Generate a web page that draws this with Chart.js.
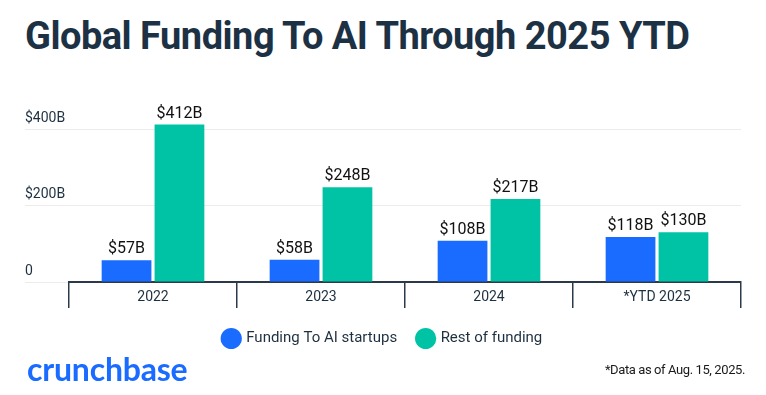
<!DOCTYPE html>
<html>
<head>
<meta charset="utf-8">
<script src="https://cdn.jsdelivr.net/npm/chart.js@4"></script>
<style>
  html, body { margin: 0; padding: 0; background: #fff; }
  body { width: 766px; height: 395px; position: relative; overflow: hidden; font-family: Roboto, "Open Sans", sans-serif; }
  #title { position: absolute; left: 25px; top: 14px; font-size: 38px; font-weight: 700; color: #1c3144; white-space: nowrap; letter-spacing: -0.5px; }
  #wrap { position: absolute; left: 0; top: 0; width: 766px; height: 395px; }
  #logo { position: absolute; left: 27px; top: 349px; font-family: Lato, sans-serif; font-size: 32px; font-weight: 700; color: #1a6bff; letter-spacing: -0.2px; }
  #note { position: absolute; right: 21px; top: 362px; font-size: 13px; color: #1a1a1a; letter-spacing: -0.4px; }
</style>
</head>
<body>
<div id="title">Global Funding To AI Through 2025 YTD</div>
<div id="wrap"><canvas id="chart" width="766" height="395"></canvas></div>
<div id="logo">crunchbase</div>
<div id="note">*Data as of Aug. 15, 2025.</div>
<script>
    "use strict";

    // Data
    var years = ["2022", "2023", "2024", "*YTD 2025"];
    var aiFunding = [57, 58, 108, 118];
    var restFunding = [412, 248, 217, 130];
    var seriesNames = ["Funding To AI startups", "Rest of funding"];
    var yTicks = [0, 200, 400];

    var textColor = "#1e3040";

    // Value labels above bars
    var barLabels = {
        id: "barLabels",
        afterDatasetsDraw: function (chart) {
            var ctx = chart.ctx;
            ctx.save();
            ctx.font = "16px Roboto";
            ctx.fillStyle = "#111111";
            ctx.textAlign = "center";
            ctx.textBaseline = "bottom";
            chart.data.datasets.forEach(function (ds, i) {
                chart.getDatasetMeta(i).data.forEach(function (bar, j) {
                    ctx.fillText("$" + ds.data[j] + "B", bar.x, bar.y - 3);
                });
            });
            ctx.restore();
        }
    };

    var ctx = document.getElementById("chart").getContext("2d");
    var myChart = new Chart(ctx, {
        type: "bar",
        data: {
            labels: years,
            datasets: [{
                label: seriesNames[0],
                data: aiFunding,
                backgroundColor: "#1a6bff",
                categoryPercentage: 0.63,
                barPercentage: 0.94
            }, {
                label: seriesNames[1],
                data: restFunding,
                backgroundColor: "#00c3a5",
                categoryPercentage: 0.63,
                barPercentage: 0.94
            }]
        },
        options: {
            responsive: false,
            animation: false,
            layout: { padding: { left: 25, right: 25, top: 110, bottom: 39 } },
            plugins: {
                legend: {
                    position: "bottom",
                    labels: {
                        usePointStyle: true,
                        pointStyle: "circle",
                        boxWidth: 15,
                        boxHeight: 15,
                        padding: 21,
                        color: textColor,
                        font: { family: "Roboto", size: 15 }
                    }
                },
                tooltip: { enabled: false }
            },
            scales: {
                x: {
                    afterFit: function (scale) { scale.height = 28; },
                    grid: {
                        offset: true,
                        drawOnChartArea: false,
                        drawTicks: true,
                        tickLength: 26,
                        color: "#2a3a4a",
                        lineWidth: 1.5
                    },
                    border: { color: "#2a3a4a", width: 2 },
                    ticks: {
                        color: textColor,
                        padding: -19,
                        font: { family: "Roboto", size: 14 }
                    }
                },
                y: {
                    min: 0,
                    max: 450,
                    afterBuildTicks: function (scale) {
                        scale.ticks = yTicks.map(function (v) { return { value: v }; });
                    },
                    afterFit: function (scale) { scale.width = 44; },
                    grid: {
                        color: "#ececec",
                        tickLength: 44,
                        drawTicks: true
                    },
                    border: { display: false },
                    ticks: {
                        crossAlign: "far",
                        labelOffset: -11,
                        color: textColor,
                        font: { family: "Roboto", size: 14 },
                        callback: function (v) { return v === 0 ? "0" : "$" + v + "B"; }
                    }
                }
            }
        },
        plugins: [barLabels]
    });
</script>
</body>
</html>
